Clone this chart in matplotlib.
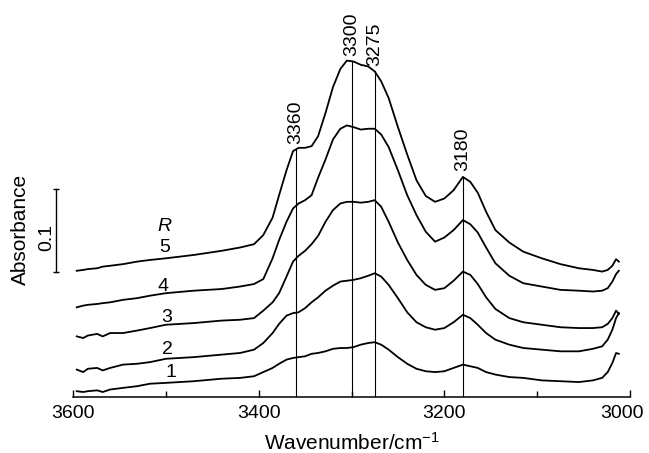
import numpy as np
import matplotlib
matplotlib.use("Agg")
import matplotlib.pyplot as plt
from matplotlib.transforms import ScaledTranslation

plt.rcParams["font.family"] = ["Liberation Sans", "DejaVu Sans"]
plt.rcParams["mathtext.fontset"] = "custom"
plt.rcParams["mathtext.rm"] = "Liberation Sans"
plt.rcParams["mathtext.it"] = "Liberation Sans:italic"

# Wavenumber grid (cm^-1) shared by all spectra
wavenumber = [
    3596, 3589, 3584, 3574, 3568, 3560, 3546, 3531, 3517, 3500,
    3470, 3440, 3420, 3405, 3395, 3385, 3378, 3370, 3363, 3357,
    3350, 3343, 3336, 3328, 3320, 3312, 3305, 3298, 3290, 3282,
    3275, 3268, 3260, 3250, 3240, 3230, 3220, 3210, 3200, 3190,
    3180, 3172, 3164, 3155, 3145, 3130, 3115, 3095, 3075, 3055,
    3040, 3030, 3024, 3019, 3015, 3012,
]

# Absorbance, spectra offset vertically (R = 1 at the bottom)
spectrum_r1 = [
    0.007, 0.006, 0.007, 0.008, 0.006, 0.009, 0.011, 0.013, 0.016, 0.017,
    0.019, 0.022, 0.023, 0.025, 0.030, 0.035, 0.040, 0.045, 0.047, 0.048,
    0.049, 0.052, 0.053, 0.055, 0.058, 0.059, 0.059, 0.060, 0.063, 0.065,
    0.066, 0.063, 0.057, 0.048, 0.040, 0.034, 0.031, 0.030, 0.031, 0.035,
    0.039, 0.037, 0.035, 0.030, 0.027, 0.024, 0.023, 0.020, 0.019, 0.018,
    0.020, 0.023, 0.030, 0.041, 0.053, 0.052,
]
spectrum_r2 = [
    0.033, 0.030, 0.034, 0.035, 0.032, 0.035, 0.039, 0.040, 0.042, 0.046,
    0.048, 0.051, 0.053, 0.057, 0.065, 0.077, 0.088, 0.098, 0.101, 0.102,
    0.107, 0.114, 0.120, 0.128, 0.134, 0.139, 0.140, 0.141, 0.143, 0.146,
    0.149, 0.145, 0.135, 0.119, 0.102, 0.090, 0.084, 0.081, 0.083, 0.090,
    0.099, 0.095, 0.087, 0.077, 0.069, 0.063, 0.059, 0.057, 0.055, 0.055,
    0.058, 0.061, 0.069, 0.081, 0.095, 0.101,
]
spectrum_r3 = [
    0.073, 0.071, 0.074, 0.076, 0.073, 0.077, 0.077, 0.080, 0.083, 0.087,
    0.089, 0.092, 0.093, 0.095, 0.104, 0.114, 0.125, 0.145, 0.163, 0.170,
    0.176, 0.184, 0.194, 0.211, 0.225, 0.233, 0.235, 0.235, 0.234, 0.235,
    0.237, 0.229, 0.211, 0.186, 0.165, 0.147, 0.135, 0.129, 0.131, 0.140,
    0.151, 0.147, 0.136, 0.120, 0.106, 0.095, 0.090, 0.087, 0.084, 0.083,
    0.083, 0.084, 0.088, 0.095, 0.104, 0.100,
]
spectrum_r4 = [
    0.108, 0.110, 0.111, 0.112, 0.113, 0.114, 0.117, 0.119, 0.122, 0.125,
    0.128, 0.130, 0.133, 0.136, 0.142, 0.167, 0.189, 0.211, 0.227, 0.233,
    0.237, 0.243, 0.264, 0.286, 0.310, 0.323, 0.327, 0.325, 0.322, 0.323,
    0.323, 0.316, 0.301, 0.273, 0.243, 0.219, 0.199, 0.187, 0.192, 0.201,
    0.213, 0.208, 0.198, 0.180, 0.161, 0.146, 0.137, 0.133, 0.129, 0.128,
    0.127, 0.128, 0.131, 0.139, 0.148, 0.152,
]
spectrum_r5 = [
    0.152, 0.153, 0.154, 0.155, 0.157, 0.158, 0.160, 0.163, 0.165, 0.167,
    0.171, 0.176, 0.180, 0.184, 0.195, 0.216, 0.243, 0.273, 0.296, 0.300,
    0.300, 0.302, 0.314, 0.342, 0.373, 0.395, 0.405, 0.404, 0.400, 0.398,
    0.392, 0.380, 0.360, 0.325, 0.292, 0.261, 0.242, 0.235, 0.239, 0.249,
    0.265, 0.259, 0.246, 0.223, 0.201, 0.186, 0.175, 0.167, 0.160, 0.155,
    0.153, 0.151, 0.153, 0.158, 0.166, 0.163,
]

spectra = [spectrum_r1, spectrum_r2, spectrum_r3, spectrum_r4, spectrum_r5]
curve_labels = ["1", "2", "3", "4", "5"]
label_wavenumber = [3495, 3498, 3499, 3503, 3501]
label_absorbance = [0.029, 0.057, 0.096, 0.133, 0.180]

peak_positions = [3360, 3300, 3275, 3180]

fig = plt.figure(figsize=(6.49, 4.53), dpi=100)
ax = fig.add_axes([73 / 649, 56 / 453, 557 / 649, 397 / 453])
ax.set_xlim(3600, 3000)
ax.set_ylim(0, 0.478)

for spec in spectra:
    ax.plot(wavenumber, spec, color="black", lw=1.3, solid_joinstyle="round")

# Peak markers: thin verticals from the axis up to the top spectrum
wn_asc = np.array(wavenumber)[::-1]
top_asc = np.array(spectrum_r5)[::-1]
for p in peak_positions:
    top = np.interp(p, wn_asc, top_asc)
    ax.plot([p, p], [0, top], color="black", lw=0.8)
    ax.annotate(str(p), xy=(p, top), xytext=(0, 4), textcoords="offset points",
                rotation=90, ha="center", va="bottom", fontsize=14)

# Curve labels
for lbl, x, y in zip(curve_labels, label_wavenumber, label_absorbance):
    ax.text(x, y, lbl, ha="center", va="center", fontsize=14)
ax.text(3501, 0.205, "R", ha="center", va="center", fontsize=14, style="italic")

# 0.1 absorbance scale bar left of the axes
ax.plot([3618, 3618], [0.15, 0.25], color="black", lw=1.0, marker="_",
        markersize=5, clip_on=False)
ax.text(3628, 0.192, "0.1", rotation=90, ha="center", va="center", fontsize=14)
ax.text(3657, 0.202, "Absorbance", rotation=90, ha="center", va="center",
        fontsize=15)

for side in ("left", "right", "top"):
    ax.spines[side].set_visible(False)
ax.spines["bottom"].set_linewidth(1.1)
ax.set_yticks([])
ax.set_xticks([3600, 3400, 3200, 3000])
ax.set_xticks([3500, 3300, 3100], minor=True)
ax.tick_params(axis="x", which="major", direction="in", length=5, width=1,
               labelsize=14, pad=6)
ax.tick_params(axis="x", which="minor", direction="in", length=4, width=1)
ax.set_xlabel(r"Wavenumber/cm$^{-1}$", fontsize=15, labelpad=7)

# nudge the last tick label left so it stays inside the canvas
last = ax.get_xticklabels()[-1]
last.set_transform(last.get_transform() + ScaledTranslation(-6 / 72, 0, fig.dpi_scale_trans))

fig.savefig("out.png", dpi=100)
